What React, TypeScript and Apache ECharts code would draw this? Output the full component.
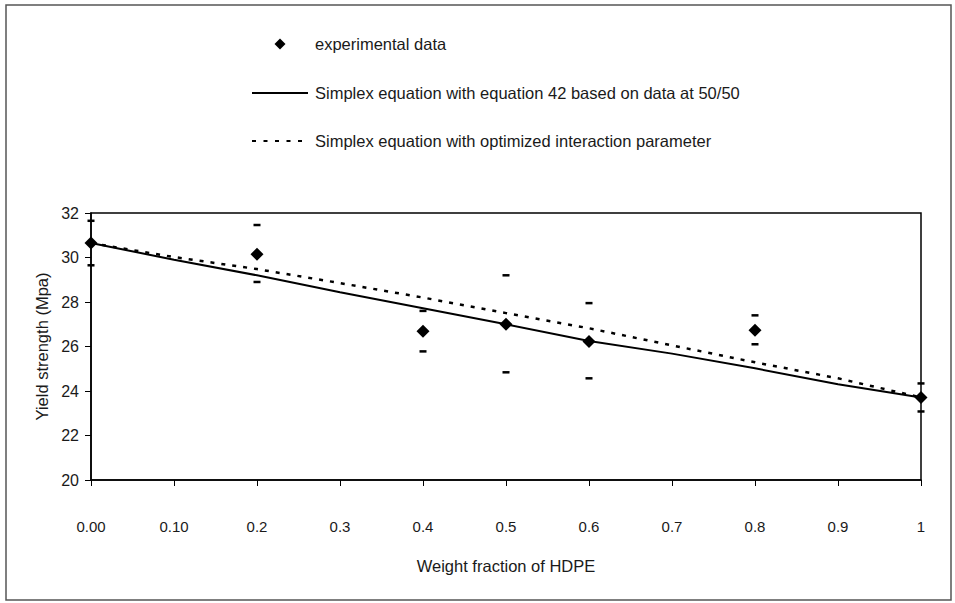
import React, { useEffect, useRef } from "react";
import * as echarts from "echarts";

const xTickLabels = ["0.00", "0.10", "0.2", "0.3", "0.4", "0.5", "0.6", "0.7", "0.8", "0.9", "1"];

const expX = [0, 0.2, 0.4, 0.5, 0.6, 0.8, 1.0];
const expY = [30.65, 30.15, 26.68, 27.0, 26.23, 26.73, 23.71];
const errUpper = [31.65, 31.46, 27.6, 29.2, 27.95, 27.4, 24.34];
const errLower = [29.65, 28.9, 25.78, 24.84, 24.57, 26.1, 23.08];

const modelX = [0, 0.1, 0.2, 0.3, 0.4, 0.5, 0.6, 0.7, 0.8, 0.9, 1.0];
const solidY = [30.65, 29.9, 29.2, 28.44, 27.72, 27.0, 26.25, 25.68, 25.02, 24.3, 23.71];
const dottedY = [30.65, 30.02, 29.48, 28.85, 28.2, 27.5, 26.82, 26.05, 25.29, 24.57, 23.71];

const names = [
  "experimental data",
  "Simplex equation with equation 42 based on data at 50/50",
  "Simplex equation with optimized interaction parameter",
];

const narrow = "'Liberation Sans Narrow', 'Arial Narrow', 'Liberation Sans', Arial, sans-serif";
const sans = "'Liberation Sans', Arial, sans-serif";
const ink = "#1a1a1a";

export default function App() {
  const ref = useRef<HTMLDivElement>(null);
  useEffect(() => {
    if (!ref.current) return;
    const chart = echarts.init(ref.current, undefined, { renderer: "svg" });
    const zip = (xs: number[], ys: number[]) => xs.map((x, i) => [x, ys[i]]);
    const legendRows = [44, 93, 141];
    chart.setOption({
      animation: false,
      backgroundColor: "#ffffff",
      grid: {
        left: 91,
        right: 34,
        top: 213,
        bottom: 123,
        show: true,
        borderColor: "#000",
        borderWidth: 1.5,
      },
      xAxis: {
        type: "value",
        min: 0,
        max: 1,
        interval: 0.1,
        splitLine: { show: false },
        axisLine: { lineStyle: { color: "#000", width: 1.5 } },
        axisTick: { show: true, inside: false, length: 6, lineStyle: { color: "#000" } },
        axisLabel: {
          margin: 39,
          fontFamily: narrow,
          fontSize: 15,
          color: ink,
          formatter: (v: number) => xTickLabels[Math.round(v * 10)] ?? "",
        },
        name: "Weight fraction of HDPE",
        nameLocation: "middle",
        nameGap: 77,
        nameTextStyle: { fontFamily: narrow, fontSize: 16.5, color: ink },
      },
      yAxis: {
        type: "value",
        min: 20,
        max: 32,
        interval: 2,
        splitLine: { show: false },
        axisLine: { lineStyle: { color: "#000", width: 1.5 } },
        axisTick: { show: true, inside: false, length: 6, lineStyle: { color: "#000" } },
        axisLabel: { margin: 12, fontFamily: sans, fontSize: 16, color: ink },
        name: "Yield strength (Mpa)",
        nameLocation: "middle",
        nameRotate: 90,
        nameGap: 33,
        nameTextStyle: { fontFamily: sans, fontSize: 16.5, color: ink },
      },
      series: [
        {
          name: names[0],
          type: "scatter",
          symbol: "diamond",
          symbolSize: 13,
          itemStyle: { color: "#000", opacity: 1 },
          data: zip(expX, expY),
          z: 5,
        },
        {
          name: "err-upper",
          type: "scatter",
          symbol: "rect",
          symbolSize: [7, 2.5],
          itemStyle: { color: "#000", opacity: 1 },
          data: zip(expX, errUpper),
        },
        {
          name: "err-lower",
          type: "scatter",
          symbol: "rect",
          symbolSize: [7, 2.5],
          itemStyle: { color: "#000", opacity: 1 },
          data: zip(expX, errLower),
        },
        {
          name: names[1],
          type: "line",
          symbol: "none",
          lineStyle: { color: "#000", width: 2 },
          itemStyle: { color: "#000" },
          data: zip(modelX, solidY),
        },
        {
          name: names[2],
          type: "line",
          symbol: "none",
          lineStyle: { color: "#000", width: 2.5, type: [4, 7] },
          itemStyle: { color: "#000" },
          data: zip(modelX, dottedY),
        },
      ],
      graphic: [
        {
          type: "rect",
          shape: { x: 6, y: 5, width: 945, height: 595 },
          style: { fill: "none", stroke: "#555", lineWidth: 1.5 },
          silent: true,
        },
        {
          type: "polygon",
          shape: {
            points: [
              [280, legendRows[0] - 5.5],
              [285.5, legendRows[0]],
              [280, legendRows[0] + 5.5],
              [274.5, legendRows[0]],
            ],
          },
          style: { fill: "#000" },
        },
        {
          type: "line",
          shape: { x1: 252, y1: legendRows[1], x2: 308, y2: legendRows[1] },
          style: { stroke: "#000", lineWidth: 2 },
        },
        {
          type: "line",
          shape: { x1: 252, y1: legendRows[2], x2: 306, y2: legendRows[2] },
          style: { stroke: "#000", lineWidth: 2, lineDash: [4, 7.5] },
        },
        ...names.map((n, i) => ({
          type: "text",
          x: 315,
          y: legendRows[i],
          style: {
            text: n,
            fontFamily: sans,
            fontSize: 16.5,
            fill: ink,
            verticalAlign: "middle",
            align: "left",
          },
        })),
      ],
    });
    return () => chart.dispose();
  }, []);
  return (
    <div
      ref={ref}
      style={{ position: "fixed", left: 0, top: 0, width: 955, height: 603 }}
    />
  );
}
